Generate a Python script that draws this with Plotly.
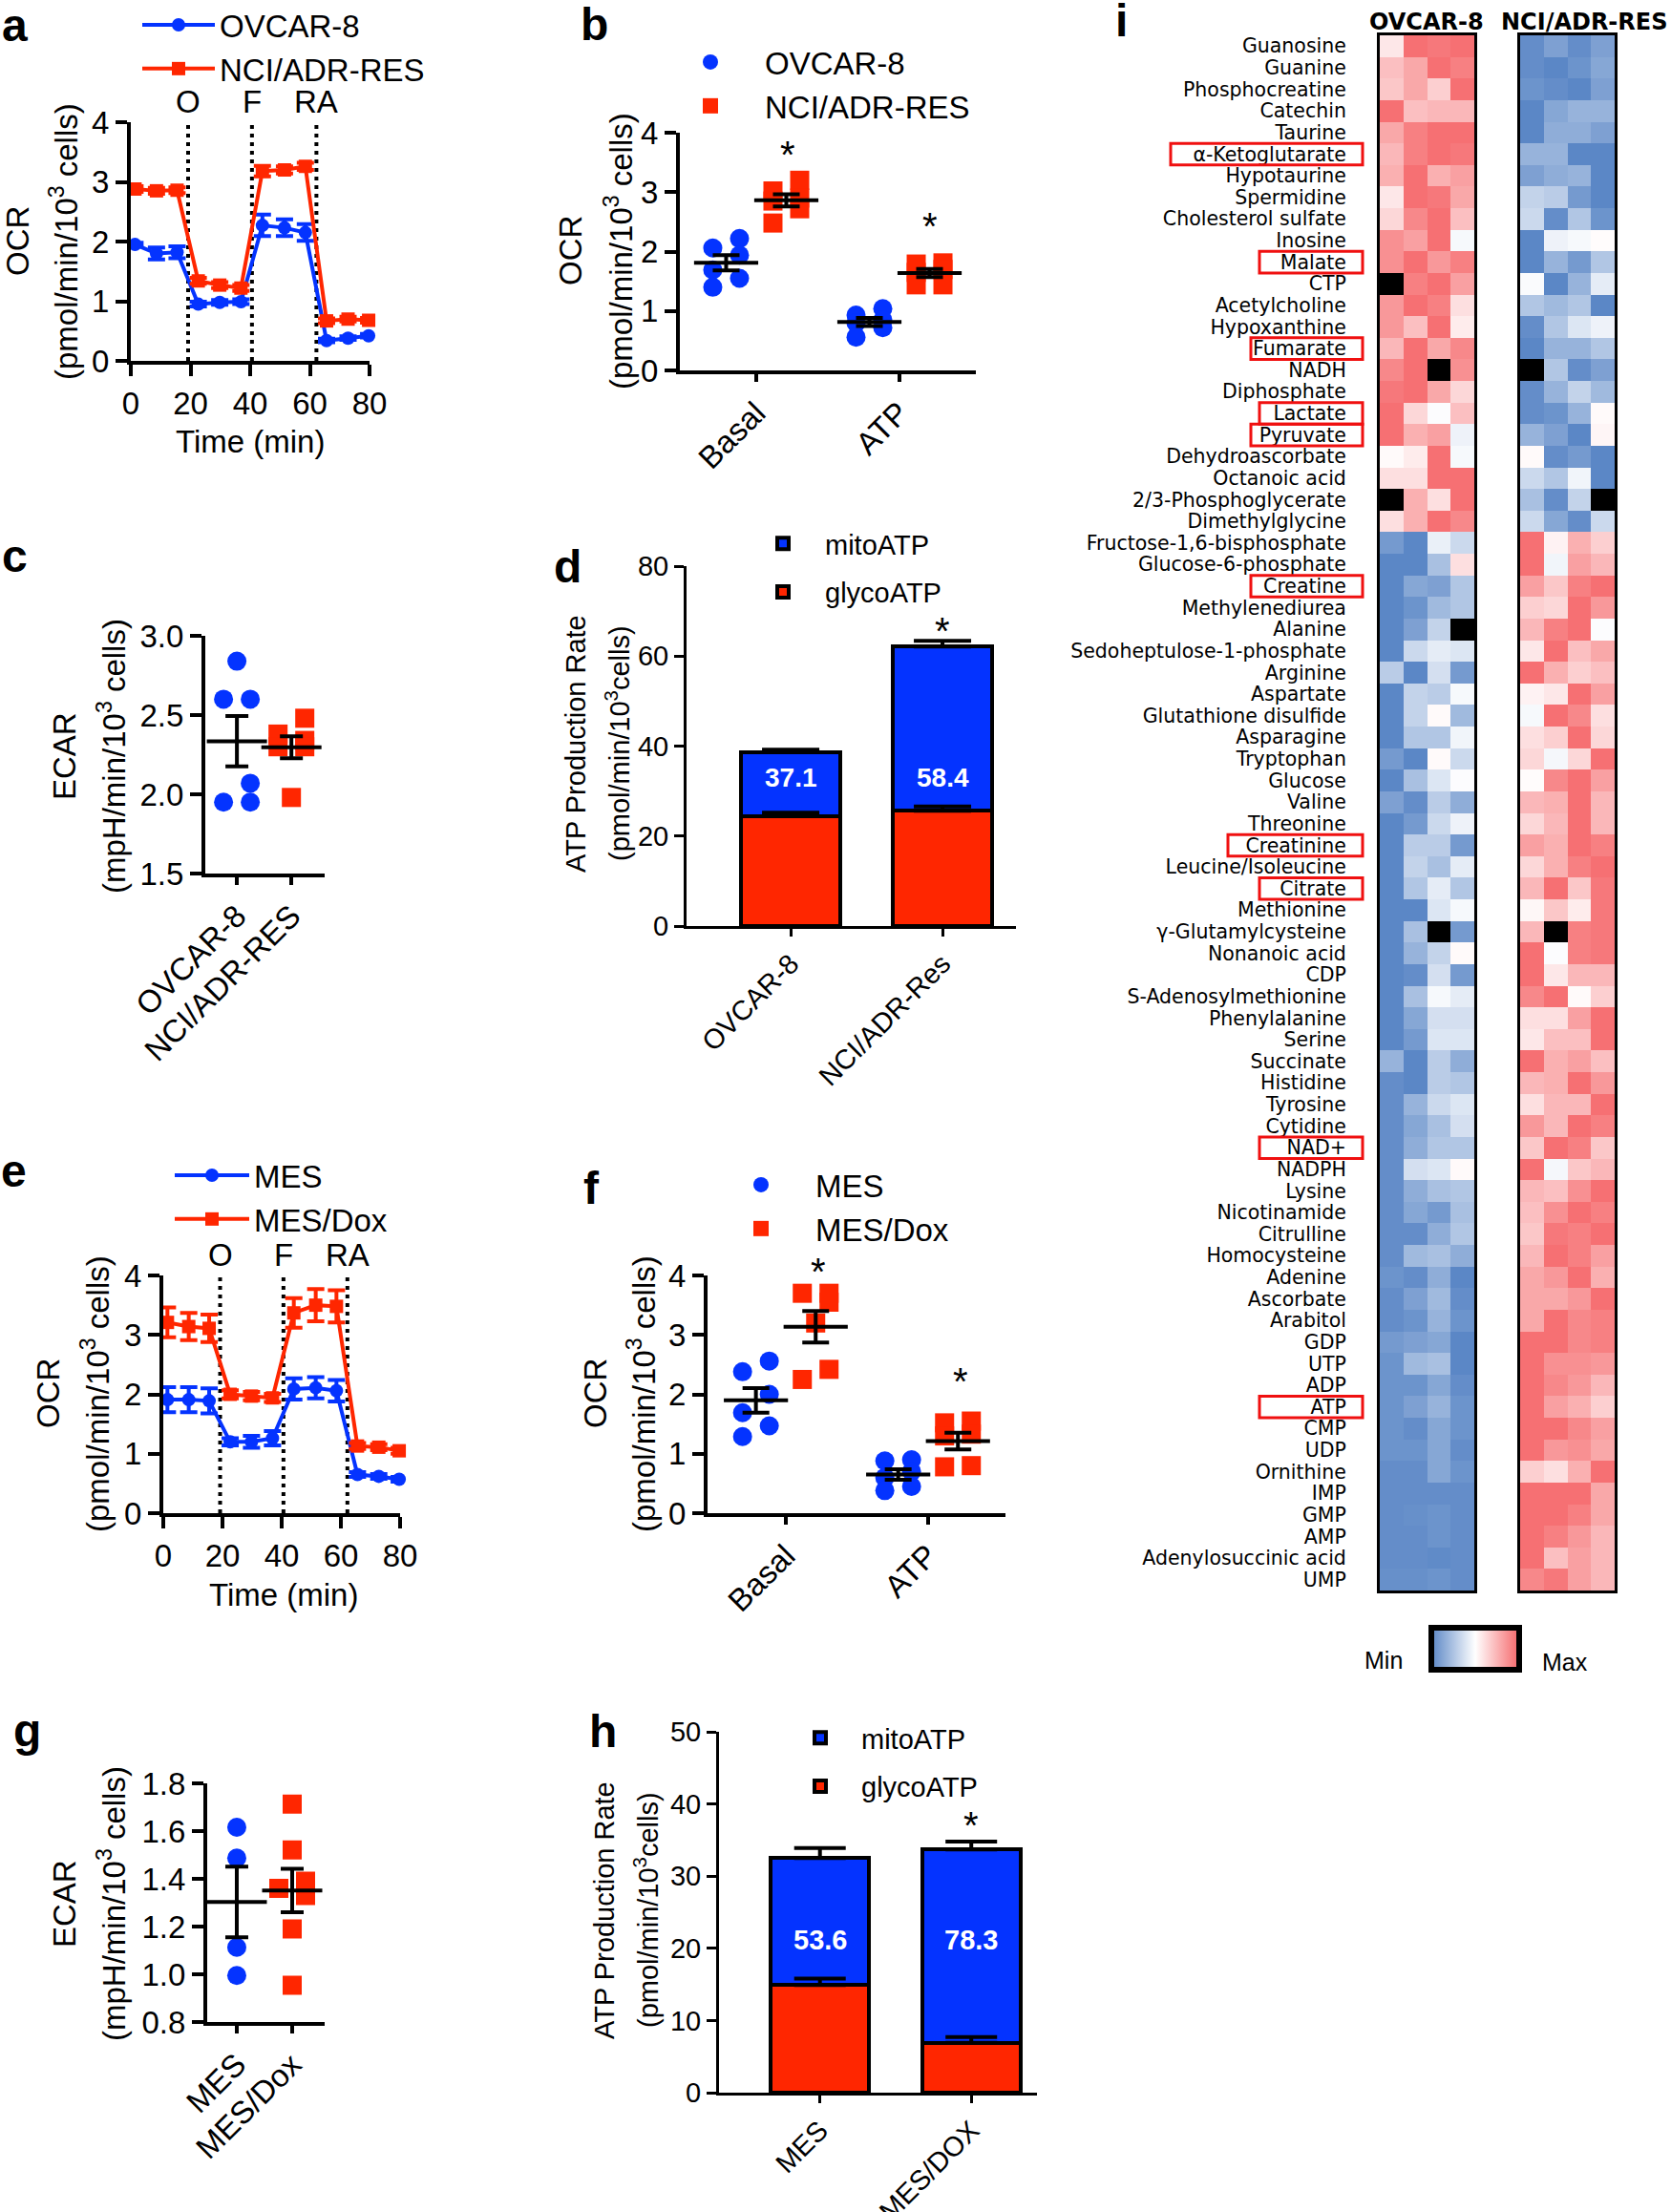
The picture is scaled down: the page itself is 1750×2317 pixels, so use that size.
import numpy as np
import plotly.graph_objects as go

W, H = 1750, 2317
FONT = "Liberation Sans, Arial, sans-serif"
BLUE = "#0433FF"
RED = "#FF2600"

# ---------------- a / e : Seahorse OCR time course ----------------
seahorse_time = [1.4, 8.6, 15.5, 22.6, 29.8, 36.9, 44.1, 51.5, 58.5, 65.6, 72.8, 79.7]
injection_time = [19.2, 40.6, 62.2]
injection_label = ["O", "F", "RA"]

ovcar8_ocr = [1.95, 1.80, 1.82, 0.95, 0.98, 0.99, 2.27, 2.23, 2.15, 0.34, 0.38, 0.42]
ovcar8_ocr_sem = [0.03, 0.10, 0.10, 0.04, 0.04, 0.04, 0.18, 0.14, 0.14, 0.03, 0.03, 0.03]
nci_ocr = [2.88, 2.85, 2.86, 1.34, 1.27, 1.22, 3.18, 3.20, 3.26, 0.67, 0.70, 0.68]
nci_ocr_sem = [0.05, 0.05, 0.05, 0.05, 0.05, 0.05, 0.09, 0.06, 0.06, 0.04, 0.04, 0.04]

mes_ocr = [1.91, 1.91, 1.89, 1.20, 1.20, 1.26, 2.09, 2.11, 2.06, 0.65, 0.62, 0.57]
mes_ocr_sem = [0.21, 0.21, 0.21, 0.06, 0.10, 0.12, 0.18, 0.18, 0.18, 0.04, 0.04, 0.04]
mesdox_ocr = [3.21, 3.14, 3.11, 2.00, 1.97, 1.94, 3.37, 3.50, 3.48, 1.13, 1.11, 1.05]
mesdox_ocr_sem = [0.25, 0.23, 0.23, 0.07, 0.07, 0.07, 0.25, 0.27, 0.27, 0.05, 0.05, 0.05]

# ---------------- b / f : basal and ATP-linked OCR ----------------
ocr_categories = ["Basal", "ATP"]
ovcar8_basal = [2.22, 2.06, 1.94, 1.69, 1.55, 1.40]
ovcar8_atp = [1.04, 0.93, 0.85, 0.80, 0.72, 0.56]
nci_basal = [3.20, 3.02, 2.90, 2.85, 2.72, 2.48]
nci_atp = [1.81, 1.79, 1.70, 1.65, 1.44, 1.44]

mes_basal = [2.56, 2.38, 2.00, 1.69, 1.47, 1.29]
mes_atp = [0.90, 0.88, 0.70, 0.60, 0.45, 0.38]
mesdox_basal = [3.70, 3.70, 3.55, 3.20, 2.42, 2.25]
mesdox_atp = [1.55, 1.52, 1.33, 1.30, 0.80, 0.78]

# ---------------- c / g : ECAR ----------------
ecar_ovcar8 = [2.84, 2.60, 2.60, 2.07, 1.95, 1.95]
ecar_nci = [2.48, 2.38, 2.34, 2.30, 2.30, 1.98]
ecar_mes = [1.616, 1.487, 1.113, 0.995]
ecar_mesdox = [1.713, 1.521, 1.39, 1.36, 1.33, 1.19, 0.954]

# ---------------- d / h : ATP production rate ----------------
d_lines = ["OVCAR-8", "NCI/ADR-Res"]
d_glyco = [24.4, 25.6]
d_glyco_sem = [0.8, 1.0]
d_mito = [14.2, 36.5]
d_mito_sem = [0.6, 1.3]
d_mito_pct = ["37.1", "58.4"]

h_lines = ["MES", "MES/DOX"]
h_glyco = [14.9, 6.9]
h_glyco_sem = [0.9, 0.8]
h_mito = [17.6, 26.8]
h_mito_sem = [1.4, 1.1]
h_mito_pct = ["53.6", "78.3"]

# ---------------- i : metabolite heatmap (row-scaled, -1 min .. 1 max) ----------------
metabolites = [
    "Guanosine", "Guanine", "Phosphocreatine", "Catechin", "Taurine", "α-Ketoglutarate",
    "Hypotaurine", "Spermidine", "Cholesterol sulfate", "Inosine", "Malate", "CTP",
    "Acetylcholine", "Hypoxanthine", "Fumarate", "NADH", "Diphosphate", "Lactate",
    "Pyruvate", "Dehydroascorbate", "Octanoic acid", "2/3-Phosphoglycerate",
    "Dimethylglycine", "Fructose-1,6-bisphosphate", "Glucose-6-phosphate", "Creatine",
    "Methylenediurea", "Alanine", "Sedoheptulose-1-phosphate", "Arginine", "Aspartate",
    "Glutathione disulfide", "Asparagine", "Tryptophan", "Glucose", "Valine", "Threonine",
    "Creatinine", "Leucine/Isoleucine", "Citrate", "Methionine", "γ-Glutamylcysteine",
    "Nonanoic acid", "CDP", "S-Adenosylmethionine", "Phenylalanine", "Serine", "Succinate",
    "Histidine", "Tyrosine", "Cytidine", "NAD+", "NADPH", "Lysine", "Nicotinamide",
    "Citrulline", "Homocysteine", "Adenine", "Ascorbate", "Arabitol", "GDP", "UTP", "ADP",
    "ATP", "CMP", "UDP", "Ornithine", "IMP", "GMP", "AMP", "Adenylosuccinic acid", "UMP",
]
highlighted = ["α-Ketoglutarate", "Malate", "Fumarate", "Lactate", "Pyruvate", "Creatine",
               "Creatinine", "Citrate", "NAD+", "ATP"]

ovcar8_heat = [
    [0.15, 0.9, 0.85, 0.9], [0.4, 0.55, 0.9, 0.8], [0.35, 0.55, 0.3, 0.9], [0.9, 0.4, 0.45, 0.45],
    [0.55, 0.8, 0.9, 0.9], [0.45, 0.8, 0.9, 0.85], [0.5, 0.9, 0.5, 0.6], [0.15, 0.9, 0.85, 0.55],
    [0.25, 0.75, 0.9, 0.4], [0.7, 0.6, 0.9, -0.05], [0.7, 0.9, 0.65, 0.8], [None, 0.8, 0.9, 0.6],
    [0.65, 0.9, 0.8, 0.2], [0.65, 0.4, 0.9, 0.12], [0.45, 0.9, 0.55, 0.75], [0.75, 0.9, None, 0.7],
    [0.85, 0.9, 0.55, 0.25], [0.9, 0.25, -0.02, 0.4], [0.9, 0.5, 0.6, -0.1], [0.03, 0.12, 0.9, -0.05],
    [0.2, 0.2, 0.9, 0.9], [None, 0.5, 0.2, 0.9], [0.2, 0.5, 0.9, 0.75], [-0.8, -0.95, -0.12, -0.3],
    [-0.95, -0.95, -0.5, 0.2], [-0.95, -0.7, -0.75, -0.45], [-0.95, -0.85, -0.55, -0.45],
    [-0.95, -0.75, -0.35, None], [-0.95, -0.3, -0.15, -0.2], [-0.4, -0.95, -0.25, -0.8],
    [-0.95, -0.35, -0.4, -0.05], [-0.95, -0.35, 0.03, -0.55], [-0.95, -0.45, -0.45, -0.08],
    [-0.8, -0.95, 0.03, -0.3], [-0.95, -0.5, -0.2, -0.02], [-0.75, -0.9, -0.4, -0.65],
    [-0.95, -0.8, -0.3, -0.1], [-0.95, -0.4, -0.4, -0.8], [-0.95, -0.35, -0.5, -0.15],
    [-0.95, -0.45, -0.15, -0.45], [-0.95, -0.95, -0.2, -0.05], [-0.95, -0.5, None, -0.8],
    [-0.95, -0.6, -0.35, 0.03], [-0.95, -0.9, -0.25, -0.8], [-0.95, -0.5, -0.05, -0.15],
    [-0.95, -0.7, -0.25, -0.25], [-0.95, -0.8, -0.2, -0.2], [-0.6, -0.95, -0.4, -0.65],
    [-0.9, -0.95, -0.4, -0.45], [-0.9, -0.6, -0.3, -0.2], [-0.9, -0.7, -0.5, -0.25],
    [-0.9, -0.65, -0.45, -0.45], [-0.9, -0.25, -0.2, 0.03], [-0.9, -0.65, -0.5, -0.45],
    [-0.9, -0.7, -0.8, -0.5], [-0.9, -0.9, -0.65, -0.45], [-0.9, -0.55, -0.5, -0.65],
    [-0.85, -0.9, -0.65, -0.95], [-0.9, -0.75, -0.55, -0.9], [-0.9, -0.85, -0.6, -0.85],
    [-0.8, -0.75, -0.7, -0.95], [-0.85, -0.55, -0.5, -0.95], [-0.85, -0.85, -0.7, -0.9],
    [-0.85, -0.75, -0.6, -0.85], [-0.85, -0.9, -0.7, -0.85], [-0.85, -0.85, -0.7, -0.9],
    [-0.9, -0.9, -0.7, -0.85], [-0.9, -0.9, -0.9, -0.9], [-0.9, -0.88, -0.85, -0.9],
    [-0.9, -0.9, -0.85, -0.9], [-0.9, -0.9, -0.92, -0.9], [-0.88, -0.88, -0.85, -0.9],
]
nci_heat = [
    [-0.9, -0.75, -0.9, -0.75], [-0.9, -0.95, -0.85, -0.7], [-0.85, -0.9, -0.95, -0.75],
    [-0.95, -0.7, -0.6, -0.6], [-0.95, -0.65, -0.65, -0.75], [-0.6, -0.6, -0.95, -0.95],
    [-0.75, -0.65, -0.6, -0.95], [-0.35, -0.4, -0.8, -0.95], [-0.3, -0.9, -0.45, -0.85],
    [-0.95, -0.1, -0.05, 0.02], [-0.95, -0.6, -0.8, -0.45], [-0.03, -0.95, -0.6, -0.15],
    [-0.45, -0.55, -0.45, -0.95], [-0.9, -0.45, -0.2, -0.1], [-0.95, -0.6, -0.6, -0.45],
    [None, -0.45, -0.9, -0.75], [-0.9, -0.6, -0.35, -0.55], [-0.9, -0.85, -0.6, 0.03],
    [-0.6, -0.75, -0.95, 0.06], [0.03, -0.9, -0.8, -0.95], [-0.3, -0.45, -0.08, -0.95],
    [-0.5, -0.9, -0.35, None], [-0.3, -0.7, -0.9, -0.3], [0.9, 0.08, 0.5, 0.3],
    [0.9, -0.08, 0.6, 0.45], [0.6, 0.35, 0.8, 0.9], [0.3, 0.25, 0.9, 0.65], [0.45, 0.8, 0.9, -0.02],
    [0.15, 0.9, 0.4, 0.55], [0.9, 0.5, 0.3, 0.4], [0.08, 0.15, 0.9, 0.6], [-0.05, 0.9, 0.75, 0.2],
    [0.2, 0.3, 0.9, 0.25], [0.25, -0.06, 0.25, 0.9], [0.02, 0.75, 0.9, 0.6], [0.45, 0.5, 0.9, 0.45],
    [0.25, 0.45, 0.9, 0.45], [0.6, 0.5, 0.9, 0.8], [0.25, 0.5, 0.8, 0.9], [0.45, 0.9, 0.35, 0.85],
    [0.05, 0.35, 0.12, 0.85], [0.45, None, 0.8, 0.85], [0.9, -0.02, 0.8, 0.85], [0.9, 0.15, 0.45, 0.45],
    [0.75, 0.9, 0.03, 0.3], [0.2, 0.2, 0.6, 0.9], [0.15, 0.4, 0.4, 0.9], [0.9, 0.5, 0.6, 0.4],
    [0.45, 0.5, 0.9, 0.65], [0.2, 0.45, 0.45, 0.9], [0.65, 0.45, 0.9, 0.8], [0.35, 0.9, 0.8, 0.35],
    [0.9, -0.06, 0.35, 0.45], [0.45, 0.4, 0.7, 0.9], [0.4, 0.7, 0.9, 0.8], [0.35, 0.85, 0.8, 0.9],
    [0.45, 0.9, 0.8, 0.6], [0.55, 0.65, 0.9, 0.5], [0.55, 0.55, 0.65, 0.9], [0.55, 0.9, 0.75, 0.8],
    [0.9, 0.9, 0.75, 0.8], [0.9, 0.7, 0.7, 0.65], [0.9, 0.75, 0.65, 0.45], [0.9, 0.6, 0.5, 0.3],
    [0.9, 0.9, 0.75, 0.6], [0.9, 0.65, 0.7, 0.55], [0.3, 0.2, 0.5, 0.9], [0.9, 0.9, 0.9, 0.55],
    [0.9, 0.9, 0.8, 0.55], [0.9, 0.8, 0.65, 0.45], [0.9, 0.4, 0.6, 0.45], [0.75, 0.85, 0.6, 0.45],
]

# ---------------- layout helpers ----------------
# plot-area boxes in pixels: (x0, x1), (top, bottom)
PANEL = {
    "a": ((137, 387), (128, 378)),
    "b": ((712, 1022), (139, 388)),
    "c": ((215, 340), (666, 915)),
    "d": ((719, 1064), (593, 970)),
    "e": ((171, 419), (1336, 1585)),
    "f": ((741, 1053), (1336, 1585)),
    "g": ((217, 340), (1868, 2118)),
    "h": ((753, 1086), (1814, 2192)),
    "i1": ((1445, 1544), (37, 1666)),
    "i2": ((1592, 1691), (37, 1666)),
}
RANGES = {
    "a": ([0, 80], [0, 4]),
    "b": ([0.467, 2.533], [0, 4]),
    "c": ([0.42, 2.61], [1.5, 3.0]),
    "d": ([0.314, 2.484], [0, 80]),
    "e": ([0, 80], [0, 4]),
    "f": ([0.45, 2.544], [0, 4]),
    "g": ([0.466, 2.586], [0.8, 1.8]),
    "h": ([0.333, 2.434], [0, 50]),
}


def px(xp):
    return xp / W


def py(yp):
    return 1 - yp / H


def refs(n):
    s = "" if n == 1 else str(n)
    return "x" + s, "y" + s


def scale(key):
    (x0, x1), (t, b) = PANEL[key]
    xr, yr = RANGES[key]
    return (x1 - x0) / (xr[1] - xr[0]), (b - t) / (yr[1] - yr[0])


def axis_style(**kw):
    d = dict(showline=True, linecolor="black", linewidth=4, ticks="outside", ticklen=12,
             tickwidth=4, tickcolor="black", showgrid=False, zeroline=False, automargin=False,
             tickfont=dict(family=FONT, size=33, color="black"), fixedrange=True)
    d.update(kw)
    return d


axes = {}


def place(n, key, xkw=None, ykw=None):
    (x0, x1), (t, b) = PANEL[key]
    xr, yr = RANGES[key]
    xr_, yr_ = refs(n)
    sx = xr_[1:]
    xa = axis_style(domain=[px(x0), px(x1)], range=xr, anchor=yr_)
    ya = axis_style(domain=[py(b), py(t)], range=yr, anchor=xr_)
    xa.update(xkw or {})
    ya.update(ykw or {})
    axes["xaxis" + sx] = xa
    axes["yaxis" + sx] = ya


annotations = []
shapes = []


def note(text, x, y, size=33, bold=False, xref="paper", yref="paper", angle=0,
         xanchor="center", yanchor="middle", color="black", family=FONT):
    if xref == "paper":
        x = px(x)
    if yref == "paper":
        y = py(y)
    if bold:
        text = "<b>" + text + "</b>"
    annotations.append(dict(text=text, x=x, y=y, xref=xref, yref=yref, showarrow=False,
                            textangle=angle, xanchor=xanchor, yanchor=yanchor,
                            font=dict(family=family, size=size, color=color)))


def swarm(values, ppx, ppy, size=20):
    # Prism-like scatter dot layout: chains of vertically overlapping points zig-zag left/right
    order = sorted(range(len(values)), key=lambda i: -values[i])
    chains = []
    for i in order:
        if chains and (values[chains[-1][-1]] - values[i]) * ppy < size:
            chains[-1].append(i)
        else:
            chains.append([i])
    off = [0.0] * len(values)
    for chain in chains:
        if len(chain) > 1:
            for k, i in enumerate(chain):
                off[i] = (1 if k % 2 == 0 else -1) * 0.7 * size / ppx
    return off


fig = go.Figure()


# ---------------- time course panels (a, e) ----------------
def time_course(n, key, series, legend):
    xr_, yr_ = refs(n)
    for name, y, err, color, symbol in series:
        fig.add_trace(go.Scatter(
            x=seahorse_time, y=y, name=name, mode="lines+markers",
            line=dict(color=color, width=4),
            marker=dict(color=color, size=14, symbol=symbol),
            error_y=dict(type="data", array=err, color=color, thickness=4, width=9),
            xaxis=xr_, yaxis=yr_, legend=legend, cliponaxis=False))
    top = RANGES[key][1][1]
    for t in injection_time:
        shapes.append(dict(type="line", xref=xr_, yref=yr_, x0=t, x1=t, y0=0, y1=top,
                           line=dict(color="black", width=4, dash="4px,5px"), layer="below"))
    place(n, key, xkw=dict(dtick=20, tick0=0), ykw=dict(dtick=1, tick0=0))


time_course(1, "a", [("OVCAR-8", ovcar8_ocr, ovcar8_ocr_sem, BLUE, "circle"),
                     ("NCI/ADR-RES", nci_ocr, nci_ocr_sem, RED, "square")], "legend")
time_course(5, "e", [("MES", mes_ocr, mes_ocr_sem, BLUE, "circle"),
                     ("MES/Dox", mesdox_ocr, mesdox_ocr_sem, RED, "square")], "legend4")


# ---------------- dot plots (b, c, f, g) ----------------
def dot_plot(n, key, groups, legend=None, mean_w=48, cap_w=14):
    xr_, yr_ = refs(n)
    ppx, ppy = scale(key)
    mx, my, me = [], [], []
    for name, color, symbol, centers, cat_values in groups:
        xs, ys = [], []
        for c, vals in zip(centers, cat_values):
            offs = swarm(vals, ppx, ppy)
            xs += [c + o for o in offs]
            ys += vals
            mx.append(c)
            my.append(float(np.mean(vals)))
            me.append(float(np.std(vals, ddof=1) / np.sqrt(len(vals))))
        fig.add_trace(go.Scatter(
            x=xs, y=ys, mode="markers", name=name,
            marker=dict(color=color, size=20, symbol=symbol, line=dict(width=0)),
            xaxis=xr_, yaxis=yr_, cliponaxis=False,
            showlegend=legend is not None, legend=legend or "legend"))
    fig.add_trace(go.Scatter(
        x=mx, y=my, mode="markers", showlegend=False,
        marker=dict(symbol="line-ew", size=mean_w, color="black",
                    line=dict(color="black", width=4)),
        error_y=dict(type="data", array=me, color="black", thickness=4, width=cap_w),
        xaxis=xr_, yaxis=yr_, cliponaxis=False))


cat_x = [1, 2]
grp = 0.21

dot_plot(2, "b", [("OVCAR-8", BLUE, "circle", [c - grp for c in cat_x], [ovcar8_basal, ovcar8_atp]),
                  ("NCI/ADR-RES", RED, "square", [c + grp for c in cat_x], [nci_basal, nci_atp])],
         legend="legend2")
place(2, "b", xkw=dict(tickvals=cat_x, ticktext=ocr_categories, tickangle=-45, ticklen=8),
      ykw=dict(dtick=1, tick0=0))

dot_plot(3, "c", [("OVCAR-8", BLUE, "circle", [1], [ecar_ovcar8]),
                  ("NCI/ADR-RES", RED, "square", [2], [ecar_nci])], mean_w=45, cap_w=12)
place(3, "c", xkw=dict(tickvals=cat_x, ticktext=["OVCAR-8", "NCI/ADR-RES"], tickangle=-45, ticklen=8),
      ykw=dict(dtick=0.5, tick0=1.5, tickformat=".1f"))

dot_plot(6, "f", [("MES", BLUE, "circle", [c - grp for c in cat_x], [mes_basal, mes_atp]),
                  ("MES/Dox", RED, "square", [c + grp for c in cat_x], [mesdox_basal, mesdox_atp])],
         legend="legend5")
place(6, "f", xkw=dict(tickvals=cat_x, ticktext=ocr_categories, tickangle=-45, ticklen=8),
      ykw=dict(dtick=1, tick0=0))

dot_plot(7, "g", [("MES", BLUE, "circle", [1], [ecar_mes]),
                  ("MES/Dox", RED, "square", [2], [ecar_mesdox])], mean_w=45, cap_w=12)
place(7, "g", xkw=dict(tickvals=cat_x, ticktext=["MES", "MES/Dox"], tickangle=-45, ticklen=8),
      ykw=dict(dtick=0.2, tick0=0.8, tickformat=".1f"))


# ---------------- stacked bars (d, h) ----------------
def atp_bars(n, key, labels, glyco, glyco_sem, mito, mito_sem, legend, cap):
    xr_, yr_ = refs(n)
    for name, y, color, rank in [("glycoATP", glyco, RED, 2), ("mitoATP", mito, BLUE, 1)]:
        fig.add_trace(go.Bar(
            x=cat_x, y=y, name=name, width=0.65, legendgroup=name + key, legendrank=rank,
            marker=dict(color=color, line=dict(color="black", width=4)),
            xaxis=xr_, yaxis=yr_, legend=legend))
    # error bars (upper only) drawn on top of the stacked segments
    tops = list(glyco) + [g + m for g, m in zip(glyco, mito)]
    errs = list(glyco_sem) + list(mito_sem)
    fig.add_trace(go.Scatter(
        x=cat_x + cat_x, y=tops, mode="markers", showlegend=False,
        marker=dict(size=1, color="rgba(0,0,0,0)"),
        error_y=dict(type="data", array=errs, arrayminus=[0] * len(errs), symmetric=False,
                     color="black", thickness=4, width=cap),
        xaxis=xr_, yaxis=yr_, cliponaxis=False))
    tick = dict(size=29, family=FONT, color="black")
    place(n, key,
          xkw=dict(tickvals=cat_x, ticktext=labels, tickangle=-45, ticklen=8, linewidth=3,
                   tickwidth=3, tickfont=tick),
          ykw=dict(dtick=20 if key == "d" else 10, tick0=0, linewidth=3, tickwidth=3, ticklen=10,
                   tickfont=tick))


atp_bars(4, "d", d_lines, d_glyco, d_glyco_sem, d_mito, d_mito_sem, "legend3", 30)
atp_bars(8, "h", h_lines, h_glyco, h_glyco_sem, h_mito, h_mito_sem, "legend6", 27)
for x, t in zip(cat_x, d_mito_pct):
    note(t, x, 33, size=28, bold=True, xref="x4", yref="y4", color="white")
for x, t in zip(cat_x, h_mito_pct):
    note(t, x, 21.2, size=29, bold=True, xref="x8", yref="y8", color="white")

# ---------------- heatmap (i) ----------------
CS = [[0, "#5b87c6"], [0.5, "#ffffff"], [1, "#f5686b"]]
for n, key, z, show in [(9, "i1", ovcar8_heat, True), (10, "i2", nci_heat, False)]:
    xr_, yr_ = refs(n)
    mask = [[1 if v is None else None for v in row] for row in z]
    fig.add_trace(go.Heatmap(z=mask, x=[0, 1, 2, 3], y=metabolites, showscale=False,
                             colorscale=[[0, "black"], [1, "black"]], xaxis=xr_, yaxis=yr_,
                             hoverinfo="skip"))
    fig.add_trace(go.Heatmap(
        z=z, x=[0, 1, 2, 3], y=metabolites, colorscale=CS, zmin=-0.95, zmax=0.95,
        xaxis=xr_, yaxis=yr_, showscale=show,
        colorbar=dict(orientation="h", x=px(1545), xanchor="center", y=py(1730), yanchor="middle",
                      len=92, lenmode="pixels", thickness=44, thicknessmode="pixels",
                      outlinewidth=6, outlinecolor="black", showticklabels=False, ticks="",
                      xpad=0, ypad=0)))
    (x0, x1), (t, b) = PANEL[key]
    frame = dict(showline=True, mirror=True, linecolor="black", linewidth=3, showgrid=False,
                 zeroline=False, ticks="", fixedrange=True, automargin=False)
    axes["xaxis" + str(n)] = dict(frame, domain=[px(x0), px(x1)], range=[-0.5, 3.5],
                                  showticklabels=False, anchor=yr_)
    axes["yaxis" + str(n)] = dict(frame, domain=[py(b), py(t)], type="category",
                                  autorange="reversed", anchor=xr_, showticklabels=show,
                                  tickmode="array", tickvals=metabolites, ticktext=metabolites,
                                  tickfont=dict(family="DejaVu Sans", size=20.5, color="black"),
                                  ticklabelstandoff=28)

for name in highlighted:
    i = metabolites.index(name)
    left = min(1319, 1414 - 12 * len(name) - 8)
    shapes.append(dict(type="rect", xref="paper", yref="y9", x0=px(left), x1=px(1427),
                       y0=i - 0.5, y1=i + 0.5, line=dict(color="#f01010", width=3)))

# ---------------- text ----------------
for letter, x, y in [("a", 15, 26), ("b", 622, 25), ("c", 15, 583), ("d", 594, 593),
                     ("e", 14, 1226), ("f", 619, 1244), ("g", 28, 1812), ("h", 631, 1813),
                     ("i", 1174, 22)]:
    note(letter, x, y, size=48, bold=True)

ocr_unit = "(pmol/min/10<sup>3</sup> cells)"
ecar_unit = "(mpH/min/10<sup>3</sup> cells)"
atp_unit = "(pmol/min/10<sup>3</sup>cells)"
for t1, t2, xa, xb, yc, sz in [("OCR", ocr_unit, 18, 67, 253, 33), ("OCR", ocr_unit, 598, 648, 263, 33),
                               ("ECAR", ecar_unit, 67, 117, 792, 33),
                               ("ATP Production Rate", atp_unit, 603, 647, 779, 29),
                               ("OCR", ocr_unit, 50, 100, 1460, 33), ("OCR", ocr_unit, 623, 672, 1460, 33),
                               ("ECAR", ecar_unit, 67, 117, 1994, 33),
                               ("ATP Production Rate", atp_unit, 633, 677, 2001, 29)]:
    note(t1, xa, yc, size=sz, angle=-90)
    note(t2, xb, yc, size=sz, angle=-90)

note("Time (min)", 262, 462)
note("Time (min)", 297, 1670)
for t, lab in zip(injection_time, injection_label):
    note(lab, t, 107, xref="x")
    note(lab, t, 1314, xref="x5")

# significance stars (x on the category axis, y in page pixels so they may sit above the axis)
for x, y, xr_ in [(1.22, 162, "x2"), (2.21, 237, "x2"), (2, 661, "x4"),
                  (1.23, 1332, "x6"), (2.23, 1447, "x6"), (2, 1912, "x8")]:
    note("*", x, y, size=40, xref=xr_)

note("OVCAR-8", 1494, 23, size=24, bold=True, family="DejaVu Sans")
note("NCI/ADR-RES", 1570, 23, size=24, bold=True, family="DejaVu Sans", xanchor="left")
note("Min", 1449, 1739, size=25)
note("Max", 1639, 1741, size=25)


# ---------------- legends ----------------
def legend_box(x, top, size=33, itemwidth=30, order="normal", gap=0):
    return dict(x=px(x), y=py(top), xanchor="left", yanchor="top", bgcolor="rgba(0,0,0,0)",
                font=dict(family=FONT, size=size, color="black"), itemwidth=itemwidth,
                traceorder=order, tracegroupgap=gap, itemclick=False, itemdoubleclick=False)


fig.update_layout(
    width=W, height=H, margin=dict(l=0, r=0, t=0, b=0, autoexpand=False),
    paper_bgcolor="white", plot_bgcolor="white",
    barmode="stack", hovermode=False, showlegend=True,
    font=dict(family=FONT, color="black"),
    legend=legend_box(144, -2, itemwidth=76),
    legend2=legend_box(687, 37, itemwidth=104),
    legend3=legend_box(776, 544, size=29, itemwidth=78, order="grouped", gap=10),
    legend4=legend_box(178, 1203, itemwidth=78),
    legend5=legend_box(740, 1213, itemwidth=104),
    legend6=legend_box(816, 1795, size=29, itemwidth=76, order="grouped", gap=10),
    annotations=annotations, shapes=shapes,
    **axes,
)

# the page body keeps no default margin so the figure sits at the window origin
fig.write_html("out.html", config={"displayModeBar": False},
               post_script="document.body.style.margin = '0';")
